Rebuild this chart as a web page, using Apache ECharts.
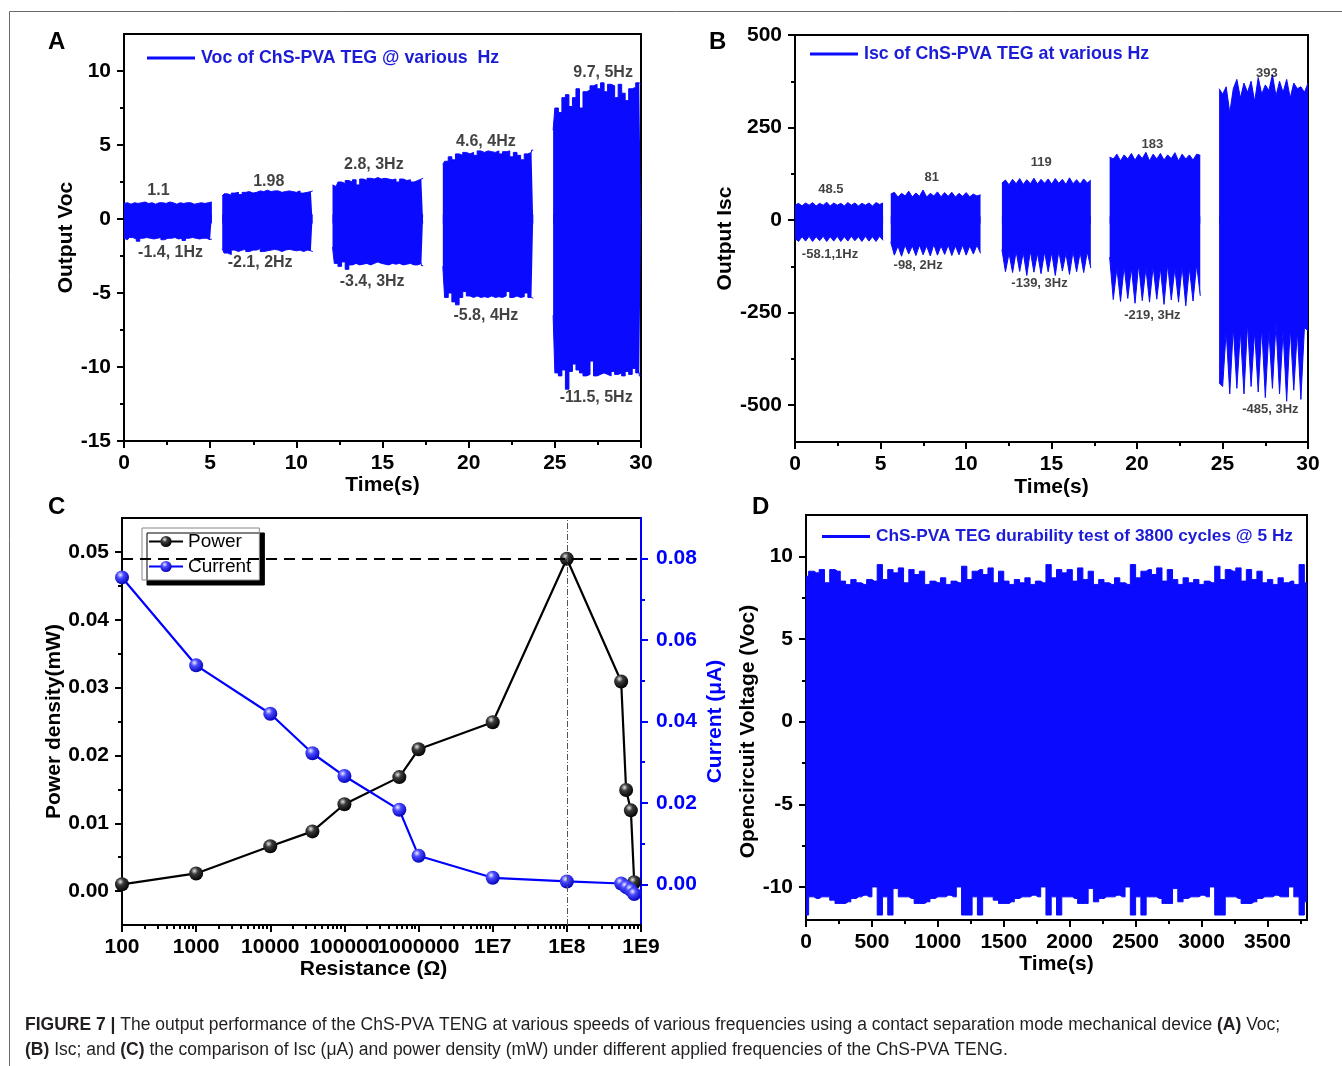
<!DOCTYPE html>
<html><head><meta charset="utf-8">
<script src="https://cdn.jsdelivr.net/npm/echarts@6/dist/echarts.min.js"></script>
<style>html,body{margin:0;padding:0;background:#fff}#c{width:1342px;height:1066px}</style>
</head><body><div id="c"></div>
<script>
// ---------- Panel A : Voc at various frequencies (envelope of the dense signal) ----------
const aSegStart = [0, 5.7, 12.1, 18.5, 24.9];
const aSegEnd   = [5.1, 10.95, 17.36, 23.75, 30];
const aTop = [
  [1.05,1.1,1.0,1.1,1.05,1.1,1.15,1.05,1.1,1.0,1.1,1.1,1.05,1.15,1.1,1.0,1.1,1.05,1.1,1.1,1.0,1.05,1.1,1.05,1.1,1.15],
  [1.55,1.7,1.6,1.75,1.8,1.65,1.8,1.85,1.75,1.8,1.9,1.85,1.95,1.85,1.9,1.9,1.8,1.85,1.9,1.85,1.8,1.9,1.75,1.8,1.85,1.9],
  [2.3,2.2,2.5,2.4,2.6,2.5,2.65,2.3,2.7,2.6,2.75,2.7,2.8,2.7,2.75,2.7,2.65,2.7,2.5,2.7,2.6,2.65,2.5,2.6,2.7,2.75],
  [3.7,3.9,4.2,4.0,4.4,4.3,4.5,4.4,4.5,4.3,4.6,4.5,4.6,4.55,4.5,4.6,4.4,4.55,4.6,4.2,4.5,4.3,4.0,4.4,4.5,4.65],
  [6.0,7.5,7.2,8.2,8.4,7.6,8.2,8.8,7.5,8.6,8.7,9.0,9.1,8.8,9.2,8.6,9.1,9.0,8.2,9.1,8.5,8.0,8.8,8.9,9.2,9.1]
];
const aBottom = [
  [-1.3,-1.4,-1.25,-1.35,-1.5,-1.3,-1.25,-1.3,-1.35,-1.3,-1.25,-1.4,-1.3,-1.3,-1.25,-1.35,-1.3,-1.45,-1.3,-1.25,-1.3,-1.35,-1.3,-1.3,-1.4,-1.35],
  [-2.0,-2.3,-2.4,-2.1,-2.2,-2.1,-2.05,-2.2,-2.1,-2.1,-2.0,-2.2,-2.15,-2.1,-2.05,-2.1,-2.2,-2.1,-2.05,-2.1,-2.15,-2.1,-2.2,-2.1,-2.15,-2.2],
  [-1.9,-3.0,-3.2,-2.9,-3.4,-3.1,-3.0,-3.1,-3.05,-3.0,-3.1,-3.0,-2.9,-3.0,-3.05,-3.1,-3.0,-3.05,-3.0,-3.1,-3.05,-3.0,-3.1,-3.1,-3.0,-3.15],
  [-3.2,-5.3,-5.0,-5.6,-5.8,-5.3,-4.9,-5.2,-5.3,-5.2,-5.3,-5.25,-5.3,-5.2,-5.3,-5.25,-5.3,-5.2,-4.9,-5.3,-5.2,-5.3,-5.25,-5.0,-5.3,-5.35],
  [-6.5,-10.4,-10.6,-10.2,-11.5,-10.3,-9.8,-10.2,-10.4,-10.6,-10.5,-9.6,-10.6,-10.5,-10.4,-10.5,-10.6,-10.3,-10.5,-10.4,-10.6,-10.3,-10.5,-10.1,-10.4,-10.6]
];
const aNotes = [
  ['1.1', 2.0, 1.9], ['-1.4, 1Hz', 2.7, -2.3],
  ['1.98', 8.4, 2.55], ['-2.1, 2Hz', 7.9, -2.95],
  ['2.8, 3Hz', 14.5, 3.65], ['-3.4, 3Hz', 14.4, -4.25],
  ['4.6, 4Hz', 21.0, 5.25], ['-5.8, 4Hz', 21.0, -6.5],
  ['9.7, 5Hz', 27.8, 9.9], ['-11.5, 5Hz', 27.4, -12.1]
];
const aXMajor = [0,5,10,15,20,25,30];
const aXMinor = [2.5,7.5,12.5,17.5,22.5,27.5];
const aYMajor = [-15,-10,-5,0,5,10];
const aYMinor = [-12.5,-7.5,-2.5,2.5,7.5];

// ---------- Panel B : Isc at various frequencies ----------
const bSegStart = [0, 5.6, 12.1, 18.4, 24.8];
const bSegEnd   = [5.15, 10.85, 17.3, 23.7, 30];
const bTop = [
  [40,45,38,46,40,47,38,45,40,48,38,46,40,45,38,47,40,46,38,45,40,46,38,47,42,46],
  [70,75,62,72,65,78,62,73,64,81,62,72,65,76,63,74,64,75,62,72,64,74,63,70,65,68],
  [100,108,95,110,98,112,96,109,98,113,97,110,99,111,97,112,99,110,96,114,98,109,97,111,100,108],
  [170,165,178,160,176,165,180,162,178,166,183,160,178,165,180,162,176,166,182,160,178,165,176,162,178,175],
  [355,340,360,290,355,380,330,370,345,375,320,385,340,365,350,393,335,375,345,380,330,370,355,360,345,370]
];
const bBottom = [
  [-50,-58,-45,-57,-44,-58,-45,-56,-44,-58,-45,-57,-44,-58,-45,-57,-44,-56,-45,-58,-44,-57,-45,-58,-44,-55],
  [-60,-95,-70,-98,-68,-92,-70,-96,-68,-94,-70,-97,-66,-95,-70,-93,-68,-96,-70,-94,-68,-95,-70,-92,-68,-90],
  [-80,-140,-90,-142,-85,-139,-88,-150,-84,-141,-90,-145,-86,-140,-88,-150,-84,-138,-90,-147,-85,-140,-88,-142,-86,-130],
  [-100,-215,-130,-220,-125,-212,-130,-225,-120,-218,-130,-222,-125,-214,-130,-228,-120,-216,-130,-222,-125,-232,-130,-219,-120,-205],
  [-440,-450,-300,-470,-290,-455,-300,-470,-280,-450,-300,-465,-290,-480,-300,-455,-280,-470,-300,-490,-290,-460,-300,-485,-290,-300]
];
const bNotes = [
  ['48.5', 2.1, 83], ['-58.1,1Hz', 2.05, -94],
  ['81', 8.0, 116], ['-98, 2Hz', 7.2, -124],
  ['119', 14.4, 156], ['-139, 3Hz', 14.3, -172],
  ['183', 20.9, 204], ['-219, 3Hz', 20.9, -258],
  ['393', 27.6, 395], ['-485, 3Hz', 27.8, -513]
];
const bXMajor = [0,5,10,15,20,25,30];
const bXMinor = [2.5,7.5,12.5,17.5,22.5,27.5];
const bYMajor = [-500,-250,0,250,500];
const bYMinor = [-375,-125,125,375];

// ---------- Panel C : power density and current vs load resistance ----------
const cResistance = [100,1000,10000,37000,100000,550000,1000000,10000000,100000000,540000000,630000000,730000000,810000000];
const cPower   = [0.001,0.0026,0.0066,0.0088,0.0128,0.0168,0.0209,0.0249,0.049,0.0309,0.0149,0.0119,0.0013];
const cCurrent = [0.0754,0.0538,0.0419,0.0322,0.0266,0.0183,0.0070,0.0016,0.0007,0.0002,-0.0007,-0.0014,-0.0024];
const cPeakPower = 0.049;
const cPeakR = 100000000;
const cXTickLabels = ['100','1000','10000','100000','1000000','1E7','1E8','1E9'];
const cXMinor = [2,3,4,5,6,7,8,9];
const cYMajor = [0,0.01,0.02,0.03,0.04,0.05];
const cYMinor = [0.005,0.015,0.025,0.035,0.045];
const cY2Major = [0,0.02,0.04,0.06,0.08];
const cY2Minor = [0.01,0.03,0.05,0.07];

// ---------- Panel D : durability test, 3800 cycles @ 5 Hz ----------
const dStep = 40;   // s between envelope samples, starting at 0
const dTop = [8.8,9.1,9.0,9.2,8.4,9.2,9.1,8.5,8.3,8.6,8.4,8.3,8.6,8.5,9.5,8.6,
  9.2,9.0,9.3,8.4,9.2,8.9,9.1,8.3,8.5,8.4,8.7,8.3,8.5,8.4,9.4,8.6,
  9.1,9.2,8.9,9.3,8.4,9.1,8.5,8.3,8.6,8.4,8.7,8.3,8.5,8.4,9.5,8.7,
  9.2,9.0,9.2,8.5,9.3,8.6,9.1,8.3,8.6,8.4,8.3,8.7,8.4,8.3,9.5,8.7,
  9.1,9.2,8.9,9.3,8.5,9.2,8.6,8.3,8.7,8.4,8.6,8.3,8.5,8.4,9.4,8.6,
  9.2,9.1,9.3,8.5,9.2,8.6,9.1,8.4,8.6,8.3,8.7,8.4,8.5,8.3,9.5,8.4];
const dBottom = [-11.7,-10.6,-10.7,-10.6,-10.6,-10.8,-11.0,-11.0,-10.9,-10.7,-10.6,-10.5,-10.6,-10.0,-11.7,-10.6,
  -11.7,-10.1,-10.6,-10.6,-10.7,-11.0,-11.0,-10.9,-10.7,-10.6,-10.6,-10.5,-10.6,-10.0,-11.7,-11.7,
  -10.6,-11.7,-10.6,-10.6,-10.8,-11.0,-11.0,-10.9,-10.7,-10.6,-10.6,-10.5,-10.6,-10.0,-11.7,-10.6,
  -11.7,-10.6,-10.6,-10.7,-11.0,-11.0,-10.1,-10.9,-10.7,-10.6,-10.6,-10.5,-10.6,-10.0,-11.7,-10.6,
  -11.7,-10.6,-10.6,-10.7,-11.0,-11.0,-10.1,-10.9,-10.7,-10.6,-10.6,-10.5,-10.6,-10.0,-11.7,-11.7,
  -10.6,-10.6,-10.7,-11.0,-11.0,-10.9,-10.7,-10.6,-10.6,-10.5,-10.6,-10.6,-10.0,-10.6,-11.7,-10.9];
const dXMajor = [0,500,1000,1500,2000,2500,3000,3500];
const dXMinor = [250,750,1250,1750,2250,2750,3250,3750];
const dYMajor = [-10,-5,0,5,10];
const dYMinor = [-7.5,-2.5,2.5,7.5];

// ---------- helpers ----------
const FONT = "'Liberation Sans', Arial, sans-serif";
const BLUE = '#0a0aff';
const TXTBLUE = '#1c1cd6';

function segPoints(start, end, vals) {
  const n = vals.length;
  return vals.map((v, i) => [start + (end - start) * i / (n - 1), v]);
}
function stepped(step, vals) { return vals.map((v, i) => [i * step, v]); }

function axisPair(o) {
  const col = o.color || '#000';
  const primary = {
    type: o.type || 'value', gridIndex: o.grid, position: o.position,
    min: o.min, max: o.max, interval: o.interval, logBase: 10,
    axisLine: { show: true, onZero: false, lineStyle: { color: col, width: 2 } },
    axisTick: { show: true, inside: false, length: 7, lineStyle: { color: col, width: 2 } },
    axisLabel: { show: true, margin: o.margin || 12, color: col, fontSize: 21, fontWeight: 'bold',
                 fontFamily: FONT, formatter: o.fmt },
    splitLine: { show: false }, minorTick: { show: false }, minorSplitLine: { show: false },
    name: o.name, nameLocation: 'middle', nameGap: o.nameGap, nameRotate: o.nameRotate,
    nameTextStyle: Object.assign({ color: col, fontSize: 21, fontWeight: 'bold', fontFamily: FONT }, o.nameStyle || {})
  };
  if (o.majors) { primary.axisTick.customValues = o.majors; primary.axisLabel.customValues = o.majors; }
  const overlay = {
    type: 'value', gridIndex: o.grid, position: o.position,
    min: o.ovMin !== undefined ? o.ovMin : o.min, max: o.ovMax !== undefined ? o.ovMax : o.max,
    axisLine: { show: false, onZero: false },
    axisTick: { show: true, inside: false, length: 4, customValues: o.minors, lineStyle: { color: col, width: 2 } },
    axisLabel: { show: false }, splitLine: { show: false }
  };
  return [primary, overlay];
}
function numFmt(v) { return String(Math.round(v * 1000) / 1000); }

const grids = [
  { left: 124, top: 34, width: 517, height: 407 },
  { left: 795, top: 35, width: 513, height: 407 },
  { left: 122, top: 518, width: 519, height: 407 },
  { left: 806, top: 515, width: 501, height: 405 }
].map(g => Object.assign(g, { show: true, borderColor: '#000', borderWidth: 2, backgroundColor: 'transparent', outerBoundsMode: 'none' }));

const xAxes = [].concat(
  axisPair({ grid: 0, position: 'bottom', min: 0, max: 30, majors: aXMajor, minors: aXMinor, fmt: numFmt, name: 'Time(s)', nameGap: 29 }),
  axisPair({ grid: 1, position: 'bottom', min: 0, max: 30, majors: bXMajor, minors: bXMinor, fmt: numFmt, name: 'Time(s)', nameGap: 35 }),
  axisPair({ grid: 2, position: 'bottom', type: 'log', min: 100, max: 1e9, interval: 1,
             ovMin: 2, ovMax: 9, minors: [],
             fmt: v => cXTickLabels[Math.round(Math.log10(v)) - 2], name: 'Resistance (Ω)', nameGap: 30,
             nameStyle: { padding: [0, 16, 0, 0] } }),
  axisPair({ grid: 3, position: 'bottom', min: 0, max: 3800, majors: dXMajor, minors: dXMinor, fmt: numFmt, name: 'Time(s)', nameGap: 30 })
);
// minor log ticks of panel C (placed on a linear overlay in decade units)
(function () {
  const vals = [];
  for (let d = 2; d < 9; d++) cXMinor.forEach(m => vals.push(d + Math.log10(m)));
  xAxes[5].axisTick.customValues = vals;
})();

const yAxes = [].concat(
  axisPair({ grid: 0, position: 'left', min: -15, max: 12.5, majors: aYMajor, minors: aYMinor, fmt: numFmt, name: 'Output Voc', nameGap: 35, nameRotate: 90, margin: 13 }),
  axisPair({ grid: 1, position: 'left', min: -600, max: 500, majors: bYMajor, minors: bYMinor, fmt: numFmt, name: 'Output Isc', nameGap: 47, nameRotate: 90, margin: 13 }),
  axisPair({ grid: 2, position: 'left', min: -0.005, max: 0.055, majors: cYMajor, minors: cYMinor, fmt: v => v.toFixed(2), name: 'Power density(mW)', nameGap: 55, nameRotate: 90, margin: 13 }),
  axisPair({ grid: 2, position: 'right', min: -0.01, max: 0.09, majors: cY2Major, minors: cY2Minor, fmt: v => v.toFixed(2), name: 'Current (μA)', nameGap: 64, nameRotate: 90, color: '#0000ff', margin: 15 }),
  axisPair({ grid: 3, position: 'left', min: -12, max: 12.5, majors: dYMajor, minors: dYMinor, fmt: numFmt, name: 'Opencircuit Voltage (Voc)', nameGap: 36, nameRotate: 90, margin: 13,
             nameStyle: { padding: [0, 28, 0, 0] } })
);

function bandPair(name, xi, yi, top, bottom, step, o1, o2) {
  const base = { type: 'line', name: name, xAxisIndex: xi, yAxisIndex: yi, showSymbol: false, symbol: 'none', step: step,
                 silent: true, z: 2, lineStyle: { color: BLUE, width: 1 }, itemStyle: { color: BLUE } };
  return [
    Object.assign({}, base, { data: top, areaStyle: { color: BLUE, opacity: 1, origin: o1 } }),
    Object.assign({}, base, { data: bottom, areaStyle: { color: BLUE, opacity: 1, origin: o2 } })
  ];
}
function segmentBands(name, xi, yi, starts, ends, tops, bottoms, step, o1, o2) {
  let out = [];
  tops.forEach((t, s) => {
    out = out.concat(bandPair(name, xi, yi, segPoints(starts[s], ends[s], t), segPoints(starts[s], ends[s], bottoms[s]), step, o1, o2));
  });
  return out;
}
function noteSeries(xi, yi, notes, size) {
  return { type: 'scatter', xAxisIndex: xi, yAxisIndex: yi, silent: true, symbolSize: 1,
           itemStyle: { color: 'rgba(0,0,0,0)' }, z: 5,
           data: notes.map(n => [n[1], n[2], n[0]]),
           label: { show: true, position: 'inside', formatter: p => p.value[2], color: '#111',
                    fontSize: size, fontWeight: 'bold', fontFamily: FONT } };
}
function sphere(c0, c1, c2) {
  return { type: 'radial', x: 0.38, y: 0.32, r: 0.7,
           colorStops: [{ offset: 0, color: c0 }, { offset: 0.35, color: c1 }, { offset: 1, color: c2 }] };
}

const series = [].concat(
  segmentBands('Voc of ChS-PVA TEG @ various  Hz', 0, 0, aSegStart, aSegEnd, aTop, aBottom, 'middle', -0.3, 0.3),
  [noteSeries(0, 0, aNotes, 16)],
  segmentBands('Isc of ChS-PVA TEG at various Hz', 2, 2, bSegStart, bSegEnd, bTop, bBottom, false, -10, 10),
  [noteSeries(2, 2, bNotes, 13)],
  [{
    type: 'line', name: 'Power', xAxisIndex: 4, yAxisIndex: 4, z: 4,
    data: cResistance.map((r, i) => [r, cPower[i]]),
    symbol: 'circle', symbolSize: 14, showSymbol: true,
    lineStyle: { color: '#000', width: 2.2 }, itemStyle: { color: sphere('#e6e6e6', '#3a3a3a', '#000') },
    markLine: { silent: true, symbol: ['none', 'none'], label: { show: false },
      data: [
        [{ coord: [100, cPeakPower] }, { coord: [1e9, cPeakPower] }],
        [{ coord: [cPeakR, -0.005] }, { coord: [cPeakR, 0.055] }]
      ].map((d, i) => { d[0].lineStyle = i === 0 ? { color: '#000', width: 2, type: [11, 7] }
                                              : { color: '#555', width: 1, type: [6, 2, 1, 2] }; return d; }) }
  }, {
    type: 'line', name: 'Current', xAxisIndex: 4, yAxisIndex: 6, z: 4,
    data: cResistance.map((r, i) => [r, cCurrent[i]]),
    symbol: 'circle', symbolSize: 14, showSymbol: true,
    lineStyle: { color: '#0000ff', width: 2.2 }, itemStyle: { color: sphere('#eeeeff', '#4a4aff', '#0000b8') }
  }],
  bandPair('ChS-PVA TEG durability test of 3800 cycles @ 5 Hz', 6, 8, stepped(dStep, dTop), stepped(dStep, dBottom), 'middle', -0.5, 0.5)
);

function bandLegend(name, left, top, size) {
  return { data: [name], left: left, top: top, padding: 0, icon: 'rect', itemWidth: 48, itemHeight: 3, itemGap: 0,
           selectedMode: false, textStyle: { color: TXTBLUE, fontSize: size, fontWeight: 'bold', fontFamily: FONT, padding: [0, 0, 0, 1] } };
}
const legends = [
  bandLegend('Voc of ChS-PVA TEG @ various  Hz', 147, 49, 17.8),
  bandLegend('Isc of ChS-PVA TEG at various Hz', 810, 45, 17.8),
  { data: ['Power', 'Current'], left: 142, top: 528, orient: 'vertical', padding: [4, 8, 4, 6],
    itemWidth: 34, itemHeight: 14, itemGap: 6, selectedMode: false,
    backgroundColor: '#fff', borderColor: '#888', borderWidth: 1,
    shadowColor: '#000', shadowBlur: 0, shadowOffsetX: 5, shadowOffsetY: 5,
    textStyle: { color: '#000', fontSize: 19, fontFamily: FONT } },
  bandLegend('ChS-PVA TEG durability test of 3800 cycles @ 5 Hz', 822, 528, 17.3)
];

const letterStyle = { fontSize: 24, fontWeight: 'bold', fontFamily: FONT, fill: '#000' };
const CAPFONT = "'Liberation Sans', Arial, sans-serif";
const graphic = [
  { type: 'rect', shape: { x: 9.5, y: 11.5, width: 1345, height: 1070 }, style: { fill: 'none', stroke: '#6a6a6a', lineWidth: 1 }, silent: true },
  { type: 'text', left: 48, top: 30, style: Object.assign({ text: 'A' }, letterStyle) },
  { type: 'text', left: 709, top: 30, style: Object.assign({ text: 'B' }, letterStyle) },
  { type: 'text', left: 48, top: 495, style: Object.assign({ text: 'C' }, letterStyle) },
  { type: 'text', left: 752, top: 495, style: Object.assign({ text: 'D' }, letterStyle) },
  { type: 'text', x: 25, y: 1013, scaleX: 0.972, style: {
      text: '{b|FIGURE 7 |}{n| The output performance of the ChS-PVA TENG at various speeds of various frequencies using a contact separation mode mechanical device }{b|(A)}{n| Voc;}\n' +
            '{b|(B)}{n| Isc; and }{b|(C)}{n| the comparison of Isc (μA) and power density (mW) under different applied frequencies of the ChS-PVA TENG.}',
      fill: '#231f20', fontSize: 18, fontFamily: CAPFONT, lineHeight: 25,
      rich: {
        b: { fontWeight: 'bold', fontSize: 18, fontFamily: CAPFONT, fill: '#231f20', lineHeight: 25 },
        n: { fontSize: 18, fontFamily: CAPFONT, fill: '#231f20', lineHeight: 25 }
      } } }
];

const chart = echarts.init(document.getElementById('c'), null, { renderer: 'canvas' });
chart.setOption({
  animation: false,
  backgroundColor: '#fff',
  textStyle: { fontFamily: FONT },
  grid: grids,
  xAxis: xAxes,
  yAxis: yAxes,
  legend: legends,
  series: series,
  graphic: graphic
});
</script></body></html>
